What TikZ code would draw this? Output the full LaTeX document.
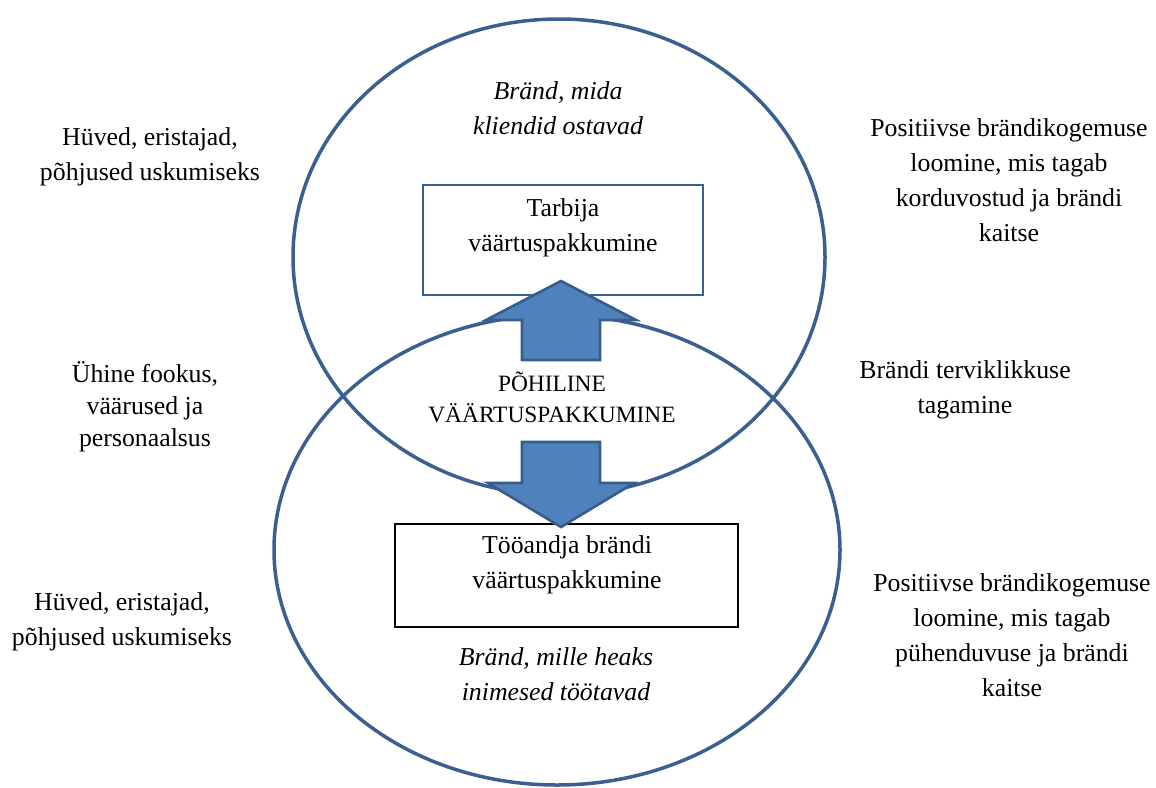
\documentclass[tikz,border=0pt]{standalone}
\usepackage{fontspec}
\setmainfont{Liberation Serif}
\usetikzlibrary{positioning}

\definecolor{ringblue}{RGB}{58,96,145}
\definecolor{arrowfill}{RGB}{79,129,189}
\definecolor{arrowline}{RGB}{56,93,138}

\def\topellipse{(559,257) ellipse [x radius=133pt, y radius=119pt]}
\def\bottomellipse{(557,550) ellipse [x radius=141.5pt, y radius=117.5pt]}

\tikzset{
  note/.style={align=center, inner sep=0pt, font=\fontsize{12.9}{17.5}\selectfont},
  slanted/.style={note, font=\fontsize{12.9}{17.5}\selectfont\itshape},
  valuebox/.style={draw, line width=0.8pt, fill=white, inner sep=0pt},
  blockarrow/.style={fill=arrowfill, draw=arrowline, line width=1.3pt, line join=miter}
}

\begin{document}
\begin{tikzpicture}[x=0.5pt, y=-0.5pt]
                    \path[fill=white, use as bounding box] (0,0) rectangle (1156,787);
                    \draw[ringblue, line width=1.75pt] \topellipse;
                    \draw[ringblue, line width=1.75pt] \bottomellipse;
                    % boxes
                    \node[valuebox, draw=ringblue, minimum width=140pt, minimum height=55pt] (tarbijabox) at (563,240) {};
                    \node[valuebox, draw=black, minimum width=171.5pt, minimum height=51.5pt] (tooandjabox) at (566.5,575.5) {};
                    % block arrows
                    \coordinate (uptip) at (561,281);
                    \coordinate (downtip) at (561,527);
                    \draw[blockarrow] (uptip) -- ++(75,39) -- ++(-36,0) -- ++(0,40) -- ++(-78,0) -- ++(0,-40) -- ++(-36,0) -- cycle;
                    \draw[blockarrow] (downtip) -- ++(73,-44) -- ++(-34,0) -- ++(0,-41) -- ++(-78,0) -- ++(0,41) -- ++(-34,0) -- cycle;
                    % texts
                    \node[note] (tarbija) at (563,228) {Tarbija\\väärtuspakkumine};
                    \node[note] (tooandja) at (567,565) {Tööandja brändi\\väärtuspakkumine};
                    \node[note, font=\fontsize{11.7}{15.5}\selectfont] (pohiline) at (552,397) {PÕHILINE\\VÄÄRTUSPAKKUMINE};
                    \node[slanted] (ostavad) at (558,108) {Bränd, mida\\kliendid ostavad};
                    \node[slanted] (tootavad) at (556,674) {Bränd, mille heaks\\inimesed töötavad};
                    \node[note] (huvedtop) at (150,157) {Hüved, eristajad,\\põhjused uskumiseks};
                    \node[note, font=\fontsize{12.9}{16}\selectfont] (fookus) at (145,407) {Ühine fookus,\\väärused ja\\personaalsus};
                    \node[note] (huvedbottom) at (122,622) {Hüved, eristajad,\\põhjused uskumiseks};
                    \node[note] (korduvostud) at (1009,180) {Positiivse brändikogemuse\\loomine, mis tagab\\korduvostud ja brändi\\kaitse};
                    \node[note] (terviklikkus) at (965,390) {Brändi terviklikkuse\\tagamine};
                    \node[note] (puhenduvus) at (1012,635) {Positiivse brändikogemuse\\loomine, mis tagab\\pühenduvuse ja brändi\\kaitse};
                  \end{tikzpicture}
\end{document}
